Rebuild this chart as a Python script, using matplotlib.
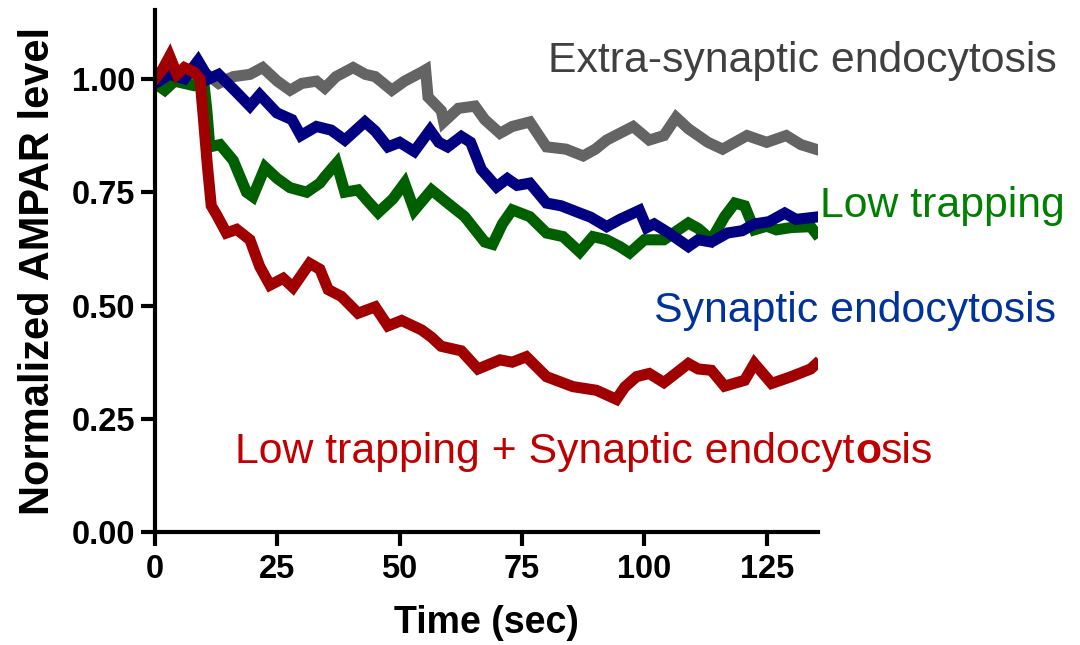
import numpy as np
import matplotlib
matplotlib.use('Agg')
import matplotlib.pyplot as plt

plt.rcParams['font.family'] = ['Liberation Sans', 'DejaVu Sans']

# values (time in sec, normalized AMPAR level)
gray_t = [0, 2, 5, 8, 10.6, 13, 16, 19.4, 22, 25, 27.6, 30, 33, 34.7, 37, 40.5, 43, 45,
          48.4, 51, 54.5, 55.3, 55.8, 58.5, 59, 62, 65.4, 67.4, 70.5, 73, 76.6, 80, 84,
          87.5, 90, 92.3, 95, 97.7, 101, 104, 106.5, 109, 111, 113, 116, 118.5, 121,
          125, 129, 132, 135]
gray_v = [1.0, 0.99, 1.01, 1.0, 1.01, 0.99, 1.005, 1.01, 1.025, 0.995, 0.975, 0.99,
          0.995, 0.98, 1.005, 1.025, 1.01, 1.005, 0.975, 0.995, 1.015, 1.02, 0.96, 0.93,
          0.905, 0.935, 0.94, 0.91, 0.88, 0.895, 0.905, 0.85, 0.845, 0.83, 0.845, 0.865,
          0.88, 0.895, 0.865, 0.875, 0.915, 0.89, 0.875, 0.86, 0.845, 0.86, 0.875, 0.86,
          0.875, 0.855, 0.845]

blue_t = [0, 3, 6, 8.8, 11, 13, 16.7, 19.4, 21.4, 24.9, 28, 29.8, 33, 36, 38.8, 42.9,
          45, 47.6, 50, 53, 56.2, 58, 59.8, 62.6, 64.5, 66.7, 69.8, 72, 74, 76.6, 80, 83,
          86.8, 89, 92.3, 95, 99, 100.5, 102, 105, 109, 111, 113.7, 117, 120, 122.5,
          125.5, 128.7, 131, 135]
blue_v = [0.99, 1.01, 1.0, 1.04, 1.0, 1.01, 0.97, 0.94, 0.965, 0.925, 0.91, 0.875,
          0.895, 0.887, 0.865, 0.905, 0.885, 0.85, 0.86, 0.84, 0.887, 0.86, 0.85, 0.873,
          0.86, 0.8, 0.762, 0.78, 0.765, 0.77, 0.726, 0.72, 0.704, 0.695, 0.674, 0.69,
          0.71, 0.672, 0.68, 0.66, 0.63, 0.645, 0.64, 0.66, 0.665, 0.68, 0.685, 0.704,
          0.69, 0.695]

green_t = [0, 2, 4, 6, 8, 10, 10.6, 11.2, 13.3, 16, 18.7, 20, 22.5, 25, 27.6, 31, 33.7,
           34.7, 37.1, 38.8, 41.5, 43.5, 45.6, 48.6, 51, 53, 56.5, 59.8, 63.3, 67.4, 69,
           71, 73, 76.6, 80, 83.4, 86.8, 89.5, 92.3, 95, 97, 100, 104, 106, 109, 111,
           113.7, 116.4, 118.5, 120.5, 122.5, 125, 127, 130, 134, 135]
green_v = [0.99, 0.975, 0.995, 0.99, 0.985, 0.99, 0.93, 0.85, 0.855, 0.82, 0.75, 0.74,
           0.805, 0.78, 0.76, 0.75, 0.77, 0.784, 0.814, 0.75, 0.755, 0.73, 0.705, 0.735,
           0.77, 0.71, 0.755, 0.726, 0.696, 0.64, 0.635, 0.68, 0.711, 0.696, 0.66, 0.652,
           0.618, 0.652, 0.645, 0.63, 0.616, 0.645, 0.645, 0.66, 0.682, 0.67, 0.645,
           0.696, 0.726, 0.72, 0.667, 0.675, 0.667, 0.672, 0.674, 0.66]

red_t = [0, 1.5, 3, 4.5, 6, 8, 9.2, 10, 10.7, 11.5, 12.6, 14.6, 16.7, 19.4, 21.4, 23.5,
         26.2, 28.2, 31.6, 33.7, 35.4, 38.1, 41.5, 45, 47.6, 50.4, 54.5, 56.5, 58.5, 62.6,
         66, 70.5, 73, 75.9, 80, 85.4, 90.2, 94.3, 96, 98.4, 101, 104, 107, 109, 111,
         113.7, 116.4, 120.5, 122.5, 126, 130, 134, 135]
red_v = [1.0, 1.02, 1.05, 1.01, 1.025, 1.015, 1.0, 0.9, 0.81, 0.72, 0.7, 0.66, 0.668,
         0.645, 0.586, 0.545, 0.56, 0.54, 0.593, 0.58, 0.535, 0.52, 0.483, 0.497, 0.455,
         0.467, 0.446, 0.43, 0.41, 0.4, 0.36, 0.38, 0.375, 0.387, 0.343, 0.321, 0.313,
         0.293, 0.32, 0.343, 0.35, 0.33, 0.355, 0.372, 0.36, 0.357, 0.322, 0.335, 0.372,
         0.328, 0.343, 0.36, 0.37]

x_ticks = [0, 25, 50, 75, 100, 125]
y_ticks = [0.00, 0.25, 0.50, 0.75, 1.00]

fig = plt.figure(figsize=(10.8, 6.45), dpi=100)
ax = fig.add_axes([0.1435, 0.175, 0.6135, 0.8095])

lw = 8
ax.plot(gray_t, gray_v, color='#646464', lw=lw, solid_joinstyle='miter')
ax.plot(green_t, green_v, color='#006000', lw=lw, solid_joinstyle='miter')
ax.plot(blue_t, blue_v, color='#000080', lw=lw, solid_joinstyle='miter')
ax.plot(red_t, red_v, color='#a00000', lw=lw, solid_joinstyle='miter')

ax.set_xlim(0, 135.4)
ax.set_ylim(0, 1.152)
ax.set_xticks(x_ticks)
ax.set_yticks(y_ticks)
ax.set_yticklabels(['%.2f' % v for v in y_ticks])
for s in ['top', 'right']:
    ax.spines[s].set_visible(False)
for s in ['left', 'bottom']:
    ax.spines[s].set_linewidth(3)
ax.tick_params(axis='both', direction='out', length=10, width=3)
ax.tick_params(axis='y', pad=4)
ax.tick_params(axis='x', pad=6)
for lab in ax.get_xticklabels() + ax.get_yticklabels():
    lab.set_fontsize(23.5)
    lab.set_fontweight('bold')

ax.set_xlabel('Time (sec)', fontsize=27, fontweight='bold', labelpad=14)
ax.set_ylabel('Normalized AMPAR level', fontsize=30, fontweight='bold', labelpad=10)

fs = 30.8
fig.text(0.507, 0.888, 'Extra-synaptic endocytosis', fontsize=fs, color='#404040',
         ha='left', va='baseline')
fig.text(0.759, 0.664, 'Low trapping', fontsize=fs, color='#008000',
         ha='left', va='baseline')
fig.text(0.606, 0.501, 'Synaptic endocytosis', fontsize=fs, color='#003399',
         ha='left', va='baseline')

t1 = fig.text(0.218, 0.282, 'Low trapping + Synaptic endocyt', fontsize=fs,
              color='#c00000', ha='left', va='baseline')
t2 = ax.annotate('o', xy=(1, 0), xycoords=t1, fontsize=fs, fontweight='bold',
                 color='#c00000', ha='left', va='bottom')
ax.annotate('sis', xy=(1, 0), xycoords=t2, fontsize=fs, color='#c00000',
            ha='left', va='bottom')

fig.savefig('out.png', dpi=100)
